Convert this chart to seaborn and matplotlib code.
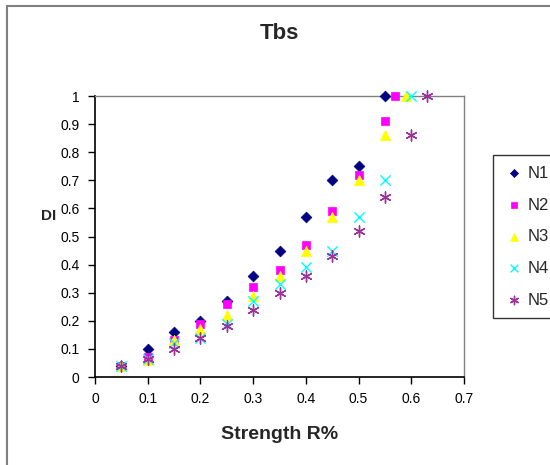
import numpy as np
import pandas as pd
import matplotlib
matplotlib.use('Agg')
import matplotlib.pyplot as plt
import seaborn as sns
from matplotlib.patches import Rectangle
from matplotlib.ticker import FuncFormatter

# values
series_names = ['N1', 'N2', 'N3', 'N4', 'N5']
base_x = [0.05, 0.10, 0.15, 0.20, 0.25, 0.30, 0.35, 0.40, 0.45, 0.50, 0.55]
n1_x = base_x
n1_y = [0.04, 0.10, 0.16, 0.20, 0.27, 0.36, 0.45, 0.57, 0.70, 0.75, 1.00]
n2_x = base_x + [0.57]
n2_y = [0.04, 0.07, 0.13, 0.19, 0.26, 0.32, 0.38, 0.47, 0.59, 0.72, 0.91, 1.00]
n3_x = base_x + [0.59]
n3_y = [0.04, 0.06, 0.13, 0.17, 0.22, 0.29, 0.36, 0.45, 0.57, 0.70, 0.86, 1.00]
n4_x = base_x + [0.60]
n4_y = [0.04, 0.065, 0.12, 0.14, 0.19, 0.27, 0.33, 0.39, 0.45, 0.57, 0.70, 1.00]
n5_x = base_x + [0.60, 0.63]
n5_y = [0.04, 0.065, 0.10, 0.14, 0.18, 0.24, 0.30, 0.36, 0.43, 0.52, 0.64, 0.86, 1.00]

xs = [n1_x, n2_x, n3_x, n4_x, n5_x]
ys = [n1_y, n2_y, n3_y, n4_y, n5_y]
colors = ['#000080', '#FF00FF', '#FFFF00', '#00FFFF', '#993399']
markers = ['D', 's', '^', 'x', (6, 2, 0)]
sizes = [30, 40, 55, 55, 65]

sns.set_style('white')
plt.rcParams['font.family'] = ['Liberation Sans', 'DejaVu Sans']

fig = plt.figure(figsize=(5.5, 4.65), dpi=100)
ax = fig.add_axes([95/550, 1 - 377/465, (464 - 95)/550, (377 - 96)/465])

for name, x, y, c, m, s in zip(series_names, xs, ys, colors, markers, sizes):
    df = pd.DataFrame({'x': x, 'y': y})
    if m in ['x', (6, 2, 0)]:
        sns.scatterplot(data=df, x='x', y='y', ax=ax, marker=m, color=c, s=s,
                        linewidth=1, label=name, zorder=3, clip_on=False)
    else:
        sns.scatterplot(data=df, x='x', y='y', ax=ax, marker=m, color=c, s=s,
                        edgecolor=c, linewidth=0.5, label=name, zorder=3, clip_on=False)

ax.set_xlim(0, 0.7)
ax.set_ylim(0, 1)
ax.set_xticks(np.arange(0, 0.71, 0.1))
ax.set_yticks(np.arange(0, 1.01, 0.1))
fmt = FuncFormatter(lambda v, p: f'{round(v, 2):g}')
ax.xaxis.set_major_formatter(fmt)
ax.yaxis.set_major_formatter(fmt)
ax.tick_params(axis='both', direction='out', length=5, width=1, color='black',
               labelsize=10, labelcolor='black', pad=6)
ax.tick_params(axis='x', bottom=True)
ax.tick_params(axis='y', left=True)

for side in ['left', 'bottom']:
    ax.spines[side].set_color('black')
    ax.spines[side].set_linewidth(1.2)
for side in ['top', 'right']:
    ax.spines[side].set_visible(True)
    ax.spines[side].set_color('#808080')
    ax.spines[side].set_linewidth(1)

ax.set_title('Tbs', fontsize=16, fontweight='bold', y=1.221, va='center', pad=0)
ax.set_xlabel('Strength R%', fontsize=14, fontweight='bold')
ax.xaxis.set_label_coords(0.5, -0.205)
ax.xaxis.label.set_va('center')
ax.set_ylabel('DI', fontsize=11, fontweight='bold', rotation=0, ha='center', va='center')
ax.yaxis.set_label_coords(-0.125, 0.573)

leg = ax.legend(loc='upper left', bbox_to_anchor=((493 - 95)/369, (377 - 155)/281),
                frameon=True, fancybox=False, edgecolor='black', fontsize=12,
                labelspacing=1.0, handletextpad=0.2, handlelength=1.2,
                borderpad=0.65, borderaxespad=0, markerscale=0.75)
leg.get_frame().set_linewidth(1)

# outer chart border
fig.patches.append(Rectangle((7/550, -0.05), 1.1, 1 - 6/465 + 0.05, transform=fig.transFigure,
                             fill=False, edgecolor='#808080', linewidth=1.5))

fig.savefig('out.png', dpi=100)
